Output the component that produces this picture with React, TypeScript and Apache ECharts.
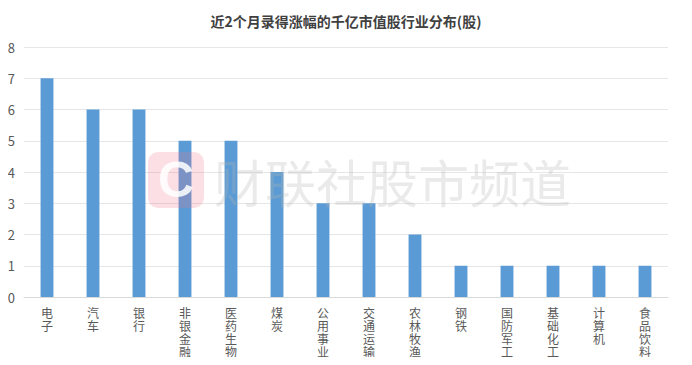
import React, { useEffect, useRef } from "react";
import * as echarts from "echarts";

const titleText = "近2个月录得涨幅的千亿市值股行业分布(股)";
const categories = ["电子", "汽车", "银行", "非银金融", "医药生物", "煤炭", "公用事业", "交通运输", "农林牧渔", "钢铁", "国防军工", "基础化工", "计算机", "食品饮料"];
const values = [7, 6, 6, 5, 5, 4, 3, 3, 2, 1, 1, 1, 1, 1];
const watermark = "财联社股市频道";

export default function App() {
  const ref = useRef<HTMLDivElement>(null);
  useEffect(() => {
    if (!ref.current) return;
    const chart = echarts.init(ref.current, undefined, { renderer: "svg" });
    const font = "'Microsoft YaHei', 'Noto Sans CJK SC', sans-serif";
    chart.setOption({
      animation: false,
      backgroundColor: "#ffffff",
      title: {
        text: titleText,
        left: "center",
        top: 9,
        textStyle: { fontSize: 14, fontWeight: "bold", color: "#404040", fontFamily: font },
      },
      grid: { left: 24, right: 24, top: 47, bottom: 68, containLabel: false },
      xAxis: {
        type: "category",
        data: categories,
        axisLine: { lineStyle: { color: "#d9d9d9" } },
        axisTick: { show: false },
        axisLabel: {
          color: "#595959",
          fontSize: 12,
          lineHeight: 13,
          margin: 9,
          fontFamily: font,
          interval: 0,
          formatter: (v: string) => v.split("").join("\n"),
        },
      },
      yAxis: {
        type: "value",
        min: 0,
        max: 8,
        interval: 1,
        axisLine: { show: false },
        axisTick: { show: false },
        splitLine: { lineStyle: { color: "#e6e6e6" } },
        axisLabel: { color: "#595959", fontSize: 13, margin: 9, fontFamily: font },
      },
      series: [
        {
          type: "bar",
          data: values,
          barWidth: "28%",
          itemStyle: { color: "#5b9bd5" },
        },
      ],
      graphic: [
        {
          type: "rect",
          z: 100,
          shape: { x: 148, y: 152, width: 56, height: 56, r: 10 },
          style: { fill: "rgba(240,110,135,0.22)" },
        },
        {
          type: "text",
          z: 101,
          x: 176,
          y: 180,
          style: {
            text: "C",
            fill: "rgba(255,255,255,0.85)",
            fontSize: 50,
            fontWeight: "bold",
            fontFamily: "Arial, sans-serif",
            align: "center",
            verticalAlign: "middle",
          },
        },
        {
          type: "text",
          z: 100,
          x: 214,
          y: 181,
          style: {
            text: watermark,
            fill: "rgba(180,180,180,0.28)",
            fontSize: 51,
            fontFamily: font,
            align: "left",
            verticalAlign: "middle",
          },
        },
      ],
    });
    return () => chart.dispose();
  }, []);
  return <div ref={ref} style={{ width: 692, height: 365, margin: -8 }} />;
}
